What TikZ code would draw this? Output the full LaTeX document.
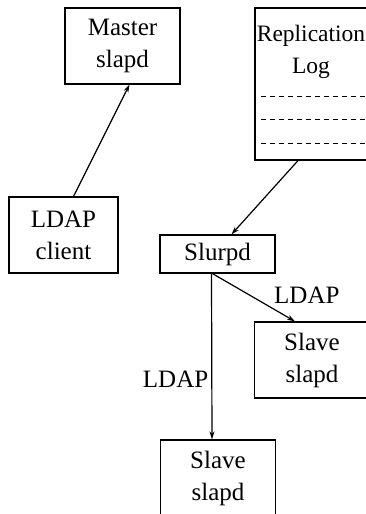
\documentclass[tikz,border=0pt]{standalone}
\usepackage{fontspec}
\setmainfont{Liberation Serif}
\usetikzlibrary{arrows.meta}
\begin{document}
\begin{tikzpicture}[x=1pt,y=-1pt,
        box/.style={draw,line width=1.2pt,inner sep=0pt,align=center,
            minimum width=115pt,minimum height=76pt,
            font=\fontsize{25}{32}\selectfont},
        arr/.style={-{Stealth[length=8pt,width=5pt]},line width=1.2pt},
        logline/.style={dashed,dash pattern=on 5pt off 4pt,line width=1pt}]
\useasboundingbox (0,0) rectangle (366,514);
\clip (0,0) rectangle (366,514);

\node[box] (master) at (122.5,46) {Master\\slapd};
\node[box,minimum width=122pt,minimum height=152pt] (replog) at (316,84) {};
\node[box,draw=none,anchor=north,font=\fontsize{23.5}{32}\selectfont] (replogtext) at (311,13) {Replication\\Log};
\node[box,minimum width=109pt] (client) at (63.5,235) {LDAP\\client};
\node[box,minimum height=38pt] (slurpd) at (217.5,254) {Slurpd};
\node[box] (slaveA) at (312,360) {Slave\\slapd};
\node[box] (slaveB) at (218,478) {Slave\\slapd};

% log entries
\draw[logline] ([shift={(7,89)}]replog.north west) -- ([shift={(0,89)}]replog.north east);
\draw[logline] ([shift={(7,112)}]replog.north west) -- ([shift={(0,112)}]replog.north east);
\draw[logline] ([shift={(7,136)}]replog.north west) -- ([shift={(0,136)}]replog.north east);

\draw[arr] ([yshift=25pt]master.north east) -- ([yshift=25pt]replog.north west);
\draw[arr] ([xshift=10pt]client.north) -- ([xshift=7pt]master.south);
\draw[arr] ([xshift=-18pt]replog.south) -- ([xshift=14pt]slurpd.north);
\draw[arr] ([xshift=-5pt]slurpd.south) -- ([xshift=-17pt]slaveA.north)
    node[pos=0.7,above right,font=\fontsize{25}{32}\selectfont] (ldapA) {LDAP};
\draw[arr] ([xshift=-6pt]slurpd.south) -- ([xshift=-6pt]slaveB.north)
    node[pos=0.64,left,inner sep=3pt,font=\fontsize{25}{32}\selectfont] (ldapB) {LDAP};
\end{tikzpicture}
\end{document}
